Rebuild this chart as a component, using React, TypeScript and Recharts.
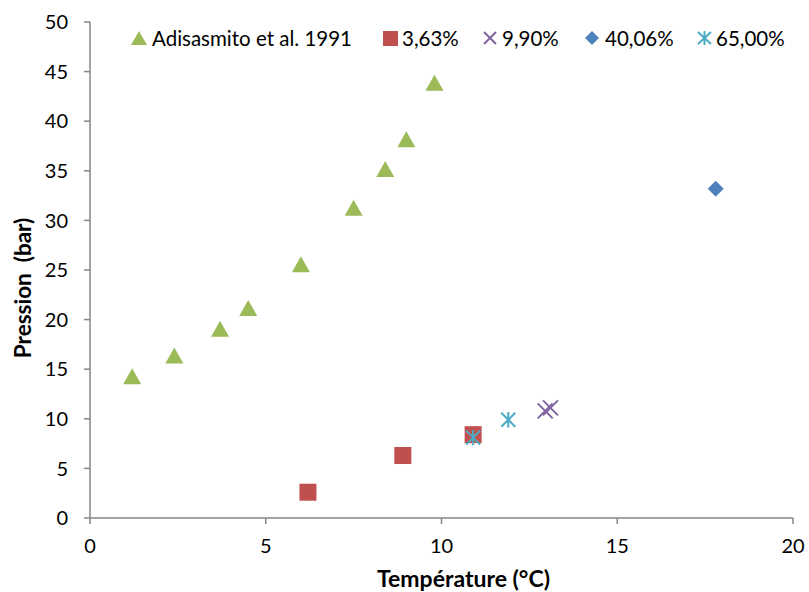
import React from 'react';
import { ScatterChart, Scatter, XAxis, YAxis } from 'recharts';

const adisasmitoT = [1.2, 2.4, 3.7, 4.5, 6.0, 7.5, 8.4, 9.0, 9.8];
const adisasmitoP = [14.2, 16.3, 19.0, 21.1, 25.5, 31.2, 35.1, 38.1, 43.8];
const s363T = [6.2, 8.9, 10.9];
const s363P = [2.6, 6.3, 8.4];
const s990T = [12.95, 13.1];
const s990P = [10.8, 11.1];
const s4006T = [17.8];
const s4006P = [33.2];
const s6500T = [10.9, 11.9];
const s6500P = [8.1, 9.9];

const xTicks = [0, 5, 10, 15, 20];
const yTicks = [0, 5, 10, 15, 20, 25, 30, 35, 40, 45, 50];

const seriesNames = ['Adisasmito et al. 1991', '3,63%', '9,90%', '40,06%', '65,00%'];
const colors = ['#9BBB59', '#C0504D', '#8064A2', '#4F81BD', '#4BACC6'];

const legendLeft = [131, 383, 483, 584, 697];
const legendTextGap = [5, 4, 5, 5, 4];

const zip = (xs: number[], ys: number[]) => xs.map((x, i) => ({ x, y: ys[i] }));

const FONT = 'Lato, "Liberation Sans", sans-serif';

const Triangle = (p: any) => {
  const { cx, cy, fill } = p;
  const w = 9, h = 16;
  return <path d={`M${cx},${cy - h * 0.55}L${cx + w},${cy + h * 0.45}L${cx - w},${cy + h * 0.45}Z`} fill={fill} />;
};
const Square = (p: any) => {
  const { cx, cy, fill } = p;
  const s = 17;
  return <rect x={cx - s / 2} y={cy - s / 2} width={s} height={s} fill={fill} />;
};
const Diamond = (p: any) => {
  const { cx, cy, fill } = p;
  const r = 8;
  return <path d={`M${cx},${cy - r}L${cx + r},${cy}L${cx},${cy + r}L${cx - r},${cy}Z`} fill={fill} />;
};
const XMark = (p: any) => {
  const { cx, cy, stroke } = p;
  const r = 7.5;
  return <path d={`M${cx - r},${cy - r}L${cx + r},${cy + r}M${cx - r},${cy + r}L${cx + r},${cy - r}`} stroke={stroke} strokeWidth={2} fill="none" />;
};
const Star = (p: any) => {
  const { cx, cy, stroke } = p;
  const r = 7;
  return (
    <path
      d={`M${cx - r},${cy - r}L${cx + r},${cy + r}M${cx - r},${cy + r}L${cx + r},${cy - r}M${cx},${cy - r * 1.1}L${cx},${cy + r * 1.1}`}
      stroke={stroke}
      strokeWidth={2}
      fill="none"
    />
  );
};

const legendIcons = [
  <svg width="16" height="16" key="a"><path d="M8,1L16,15L0,15Z" fill={colors[0]} /></svg>,
  <svg width="15" height="16" key="b"><rect x="0" y="1" width="15" height="15" fill={colors[1]} /></svg>,
  <svg width="14" height="16" key="c"><path d="M1,2L13,14M1,14L13,2" stroke={colors[2]} strokeWidth="2" /></svg>,
  <svg width="16" height="16" key="d"><path d="M8,1L15,8L8,15L1,8Z" fill={colors[3]} /></svg>,
  <svg width="15" height="16" key="e"><path d="M1,2L14,14M1,14L14,2M7.5,1L7.5,15" stroke={colors[4]} strokeWidth="2" /></svg>,
];

const YLabel = (props: any) => {
  const { viewBox } = props;
  const cx = 22;
  const cy = viewBox.y + viewBox.height / 2 + 18;
  return (
    <text
      x={cx}
      y={cy}
      transform={`rotate(-90 ${cx} ${cy})`}
      textAnchor="middle"
      dominantBaseline="central"
      fontFamily={FONT}
      fontWeight="bold"
      fontSize={22.5}
      fill="#000"
    >
      {'Pression\u00a0\u00a0(bar)'}
    </text>
  );
};

const XLabel = (props: any) => {
  const { viewBox } = props;
  const cx = viewBox.x + viewBox.width / 2 + 22;
  return (
    <text x={cx} y={578} textAnchor="middle" dominantBaseline="central" fontFamily={FONT} fontWeight="bold" fontSize={23} fill="#000">
      Température (°C)
    </text>
  );
};

export default function App() {
  const axisStroke = '#868686';
  const tickStyle = { fontFamily: FONT, fontSize: 20, fill: '#000' };
  return (
    <div style={{ position: 'absolute', left: 0, top: 0, width: 809, height: 592, background: '#fff' }}>
      <ScatterChart width={809} height={592} margin={{ top: 22, right: 16, bottom: 24, left: 30 }}>
        <XAxis
          type="number"
          dataKey="x"
          domain={[0, 20]}
          ticks={xTicks}
          interval={0}
          stroke={axisStroke}
          strokeWidth={1.5}
          tickLine={{ stroke: axisStroke }}
          tickSize={6}
          tickMargin={15}
          tick={tickStyle}
          height={50}
          label={<XLabel />}
          allowDataOverflow
        />
        <YAxis
          type="number"
          dataKey="y"
          domain={[0, 50]}
          ticks={yTicks}
          interval={0}
          stroke={axisStroke}
          strokeWidth={1.5}
          tickLine={{ stroke: axisStroke }}
          tickSize={6}
          tickMargin={16}
          tick={tickStyle}
          width={60}
          label={<YLabel />}
          allowDataOverflow
        />
        <Scatter name={seriesNames[0]} data={zip(adisasmitoT, adisasmitoP)} fill={colors[0]} shape={Triangle} isAnimationActive={false} />
        <Scatter name={seriesNames[1]} data={zip(s363T, s363P)} fill={colors[1]} shape={Square} isAnimationActive={false} />
        <Scatter name={seriesNames[2]} data={zip(s990T, s990P)} stroke={colors[2]} fill={colors[2]} shape={XMark} isAnimationActive={false} />
        <Scatter name={seriesNames[3]} data={zip(s4006T, s4006P)} fill={colors[3]} shape={Diamond} isAnimationActive={false} />
        <Scatter name={seriesNames[4]} data={zip(s6500T, s6500P)} stroke={colors[4]} fill={colors[4]} shape={Star} isAnimationActive={false} />
      </ScatterChart>
      {seriesNames.map((n, i) => (
        <div
          key={n}
          style={{
            position: 'absolute',
            left: legendLeft[i],
            top: 26,
            display: 'flex',
            alignItems: 'center',
            fontFamily: FONT,
            fontSize: 20.5,
            color: '#000',
            whiteSpace: 'nowrap',
          }}
        >
          {legendIcons[i]}
          <span style={{ marginLeft: legendTextGap[i] }}>{n}</span>
        </div>
      ))}
    </div>
  );
}
